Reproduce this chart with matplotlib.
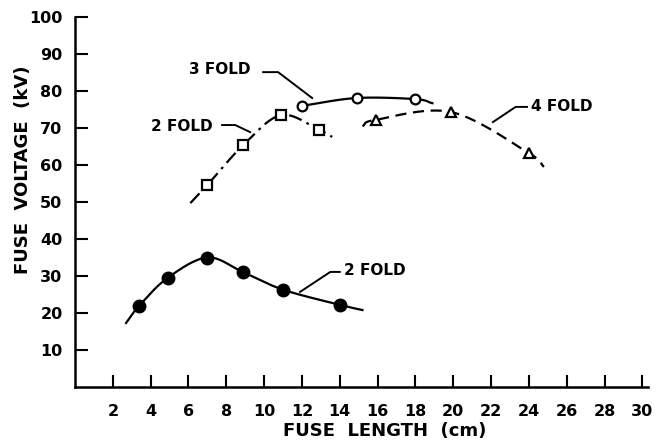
import numpy as np
import matplotlib
matplotlib.use("Agg")
import matplotlib.pyplot as plt

# values
x_ticks = [2, 4, 6, 8, 10, 12, 14, 16, 18, 20, 22, 24, 26, 28, 30]
y_ticks = [10, 20, 30, 40, 50, 60, 70, 80, 90, 100]

# lower 2 fold (filled circles, solid)
low2_x = [3.4, 4.9, 7.0, 8.9, 11.0, 14.0]
low2_y = [22.0, 29.5, 35.0, 31.0, 26.3, 22.2]
low2_ends_x = [2.7, 15.2]
low2_ends_y = [17.3, 20.8]

# upper 2 fold (open squares, dash-dot)
up2_x = [7.0, 8.9, 10.9, 12.9]
up2_y = [54.6, 65.4, 73.5, 69.5]
up2_ends_x = [6.1, 13.6]
up2_ends_y = [49.7, 67.6]

# 3 fold (open circles, solid)
f3_x = [12.0, 14.9, 18.0]
f3_y = [76.0, 78.1, 77.8]
f3_ends_x = [12.0, 18.9]
f3_ends_y = [76.0, 76.7]

# 4 fold (open triangles, dashed)
f4_x = [15.9, 19.9, 24.0]
f4_y = [72.2, 74.3, 63.2]
f4_ends_x = [15.2, 24.8]
f4_ends_y = [70.5, 59.5]


def smooth(xs, ys, n=30):
    """Catmull-Rom curve through the given points."""
    p = np.column_stack([xs, ys]).astype(float)
    p = np.vstack([2 * p[0] - p[1], p, 2 * p[-1] - p[-2]])
    out = []
    t = np.linspace(0, 1, n)[:, None]
    for i in range(1, len(p) - 2):
        p0, p1, p2, p3 = p[i - 1], p[i], p[i + 1], p[i + 2]
        seg = 0.5 * ((2 * p1) + (-p0 + p2) * t
                     + (2 * p0 - 5 * p1 + 4 * p2 - p3) * t ** 2
                     + (-p0 + 3 * p1 - 3 * p2 + p3) * t ** 3)
        out.append(seg)
    out = np.vstack(out)
    return out[:, 0], out[:, 1]


def curve(px, py, ends_x, ends_y):
    xs = [ends_x[0]] + list(px) + [ends_x[1]]
    ys = [ends_y[0]] + list(py) + [ends_y[1]]
    # drop duplicate endpoint if the curve starts on a marker
    pts = []
    for a, b in zip(xs, ys):
        if not pts or (a, b) != pts[-1]:
            pts.append((a, b))
    return smooth([q[0] for q in pts], [q[1] for q in pts])


plt.rcParams['font.family'] = ['DejaVu Sans']
plt.rcParams['font.weight'] = 'bold'

fig = plt.figure(figsize=(6.69, 4.45), dpi=100)
ax = fig.add_axes([75 / 669, 58 / 445, 573 / 669, 370 / 445])
ax.set_xlim(0, 30.3)
ax.set_ylim(0, 100)

for s in ['top', 'right']:
    ax.spines[s].set_visible(False)
for s in ['left', 'bottom']:
    ax.spines[s].set_linewidth(1.8)

ax.set_xticks(x_ticks)
ax.set_yticks(y_ticks)
ax.tick_params(axis='both', direction='in', length=9, width=1.5,
               labelsize=11.5, colors='black')
ax.tick_params(axis='y', pad=9)
ax.tick_params(axis='x', pad=12)
for lab in ax.get_xticklabels() + ax.get_yticklabels():
    lab.set_fontweight('bold')

lw = 1.6
cx, cy = curve(low2_x, low2_y, low2_ends_x, low2_ends_y)
ax.plot(cx, cy, color='black', lw=lw)
ax.plot(low2_x, low2_y, 'o', color='black', ms=9)

cx, cy = curve(up2_x, up2_y, up2_ends_x, up2_ends_y)
ax.plot(cx, cy, color='black', lw=lw, dashes=(6, 2.5, 1.2, 2.5))
ax.plot(up2_x, up2_y, 's', mfc='white', mec='black', mew=1.6, ms=7)

cx, cy = curve(f3_x, f3_y, f3_ends_x, f3_ends_y)
ax.plot(cx, cy, color='black', lw=lw)
ax.plot(f3_x, f3_y, 'o', mfc='white', mec='black', mew=1.6, ms=7)

cx, cy = curve(f4_x, f4_y, f4_ends_x, f4_ends_y)
ax.plot(cx, cy, color='black', lw=lw, dashes=(5, 3))
ax.plot(f4_x, f4_y, '^', mfc='white', mec='black', mew=1.6, ms=7.5)

# labels with leader lines
tk = dict(fontsize=11, fontweight='bold', va='center')
ax.text(7.67, 85.7, '3 FOLD', ha='center', **tk)
ax.plot([9.95, 10.74, 12.54], [85.1, 85.1, 78.1], color='black', lw=1.4)

ax.text(5.66, 70.3, '2 FOLD', ha='center', **tk)
ax.plot([7.78, 8.47, 9.26], [70.8, 70.8, 68.9], color='black', lw=1.4)

ax.text(24.1, 75.7, '4 FOLD', ha='left', **tk)
ax.plot([23.9, 23.3, 22.1], [75.7, 75.7, 71.6], color='black', lw=1.4)

ax.text(14.2, 31.6, '2 FOLD', ha='left', **tk)
ax.plot([11.9, 13.5, 14.0], [25.7, 31.1, 31.1], color='black', lw=1.4)

ax.set_xlabel('FUSE  LENGTH  (cm)', fontsize=13, fontweight='bold')
ax.set_ylabel('FUSE  VOLTAGE  (kV)', fontsize=13, fontweight='bold')
ax.xaxis.set_label_coords(0.54, -0.095)
ax.yaxis.set_label_coords(-0.075, 0.586)

fig.savefig('out.png', dpi=100)
